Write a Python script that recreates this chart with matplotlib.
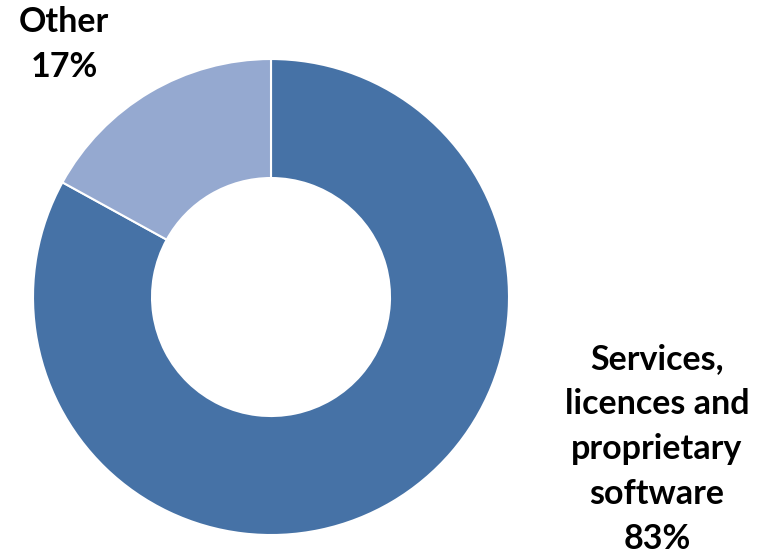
"""Donut chart: revenue share by source."""
import matplotlib
matplotlib.use("Agg")
import matplotlib.pyplot as plt

segmentos = ["Services,\nlicences and\nproprietary\nsoftware", "Other"]
porcentajes = [83, 17]
colores = ["#4672A6", "#95A9D0"]

plt.rcParams["font.family"] = ["Lato", "DejaVu Sans"]

fig = plt.figure(figsize=(7.71, 5.60), dpi=100)
ax = fig.add_axes([0.0428, 0.0446, 0.6174, 0.85])
ax.pie(porcentajes, colors=colores, startangle=90, counterclock=False,
       radius=1.0, wedgeprops=dict(width=0.5, edgecolor="white", linewidth=1.5))
ax.set_xlim(-1, 1)
ax.set_ylim(-1, 1)
ax.set_aspect("equal")
ax.axis("off")

fig.text(0.083, 0.92, f"{segmentos[1]}\n{porcentajes[1]}%", ha="center",
         va="center", fontsize=24.5, fontweight="bold", linespacing=1.5)
fig.text(0.852, 0.199, f"{segmentos[0]}\n{porcentajes[0]}%", ha="center",
         va="center", fontsize=24.5, fontweight="bold", linespacing=1.5)

fig.savefig("out.png", dpi=100, facecolor="white")
